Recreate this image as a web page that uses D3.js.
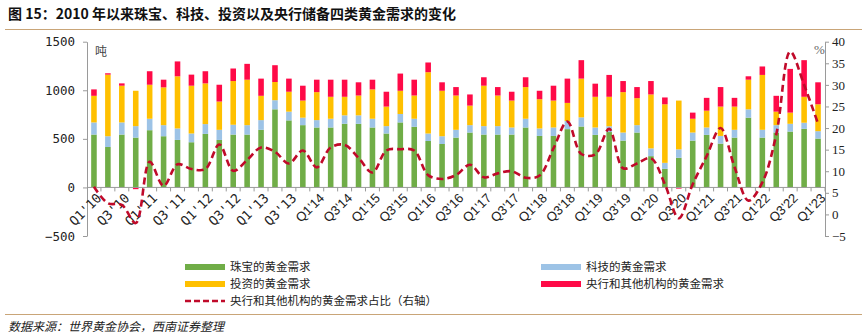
<!DOCTYPE html>
<html><head><meta charset="utf-8">
<script src="https://cdn.jsdelivr.net/npm/d3@7"></script>
<style>body{margin:0;background:#fff}svg{display:block}</style>
</head><body><svg id="c" width="867" height="335"></svg>
<script>
const quarters = ["Q1'10","Q2'10","Q3'10","Q4'10","Q1'11","Q2'11","Q3'11","Q4'11","Q1'12","Q2'12","Q3'12","Q4'12",
"Q1'13","Q2'13","Q3'13","Q4'13","Q1'14","Q2'14","Q3'14","Q4'14","Q1'15","Q2'15","Q3'15","Q4'15",
"Q1'16","Q2'16","Q3'16","Q4'16","Q1'17","Q2'17","Q3'17","Q4'17","Q1'18","Q2'18","Q3'18","Q4'18",
"Q1'19","Q2'19","Q3'19","Q4'19","Q1'20","Q2'20","Q3'20","Q4'20","Q1'21","Q2'21","Q3'21","Q4'21",
"Q1'22","Q2'22","Q3'22","Q4'22","Q1'23"];
const jewelry = [544,416,544,513,589,527,489,465,551,489,544,544,593,804,690,641,617,617,655,655,617,555,669,624,478,447,513,565,544,544,544,617,530,530,600,627,541,570,482,565,322,191,305,482,541,451,513,718,513,565,575,603,503];
const technology = [125,111,125,118,118,114,118,90,101,104,101,97,100,94,90,77,76,90,87,87,90,76,87,83,77,80,80,76,87,87,73,90,77,87,83,94,76,60,83,76,80,62,87,83,76,79,80,86,80,76,80,63,76];
const investment = [274,634,378,364,350,389,537,492,419,291,450,468,250,187,205,176,288,226,191,204,302,201,239,239,631,468,353,201,416,315,277,326,301,277,187,399,316,303,416,278,555,603,502,142,173,302,239,305,565,139,115,267,277];
const centralBanks = [66,14,24,-18,139,79,153,114,125,173,129,163,177,173,135,153,128,176,176,136,100,153,177,163,100,87,87,115,87,87,91,101,87,153,250,190,135,225,114,114,138,70,-12,63,132,201,90,35,87,163,450,377,226];
const cbShare = [6.4,2.6,2.2,-2.0,12.2,6.6,11.6,10.5,10.5,16.2,10.1,12.6,15.5,14.5,11.8,14.8,10.9,15.5,16.1,13.1,9.7,14.8,15.1,14.8,9.1,8.2,9.1,11.5,8.6,9.5,10.0,8.5,9.0,15.3,21.5,14.0,13.9,19.8,10.7,11.8,13.0,7.0,-0.9,7.0,13.5,20.0,11.0,3.2,7.4,18.5,37.7,30.0,21.0];
const leftTicks = [-500,0,500,1000,1500];
const rightTicks = [-5,0,5,10,15,20,25,30,35,40];
const seriesNames = ["珠宝的黄金需求","科技的黄金需求","投资的黄金需求","央行和其他机构的黄金需求"];
const lineName = "央行和其他机构的黄金需求占比（右轴）";
const title = "图 15：2010 年以来珠宝、科技、投资以及央行储备四类黄金需求的变化";
const source = "数据来源：世界黄金协会，西南证券整理";

const colors = {jewelry:"#70AD47", technology:"#9DC3E6", investment:"#FFC000", centralBanks:"#FF0A47"};
const lineColor = "#C00A2A";
const keys = ["jewelry","technology","investment","centralBanks"];

const svg = d3.select("#c");
const X0 = 87, X1 = 825, YT = 41.7, YB = 236;

const rows = quarters.map((q,i)=>({q, jewelry:jewelry[i], technology:technology[i], investment:investment[i], centralBanks:centralBanks[i]}));
const x = d3.scaleBand().domain(quarters).range([X0, X1]).paddingInner(0.6).paddingOuter(0.3);
const yL = d3.scaleLinear().domain([-500,1500]).range([YB, YT]);
const yR = d3.scaleLinear().domain([-5,40]).range([YB, YT]);

// title
svg.append("text").attr("x",8).attr("y",19).attr("font-family","'Noto Sans CJK SC'").attr("font-weight","bold")
  .attr("font-size",14).attr("fill","#111").text(title);
svg.append("line").attr("x1",5).attr("x2",862).attr("y1",29.5).attr("y2",29.5).attr("stroke","#C9A578").attr("stroke-width",1.2);

// bars
const stack = d3.stack().keys(keys).offset(d3.stackOffsetDiverging)(rows);
svg.append("g").selectAll("g").data(stack).join("g").attr("fill",d=>colors[d.key])
  .selectAll("rect").data(d=>d).join("rect")
  .attr("x",d=>x(d.data.q)).attr("width",x.bandwidth())
  .attr("y",d=>yL(Math.max(d[0],d[1]))).attr("height",d=>Math.abs(yL(d[0])-yL(d[1])));

// axes
const axisColor = "#9A9A9A";
const gL = svg.append("g").attr("transform",`translate(${X0},0)`).call(d3.axisLeft(yL).tickValues(leftTicks).tickFormat(d3.format("d")).tickSize(4).tickSizeOuter(0).tickPadding(8));
gL.select(".domain").attr("stroke",axisColor);
gL.selectAll(".tick line").attr("stroke",axisColor);
gL.selectAll("text").attr("font-family","'DejaVu Sans Mono'").attr("font-size",12.5).attr("fill","#222");

const gR = svg.append("g").attr("transform",`translate(${X1},0)`).call(d3.axisRight(yR).tickValues(rightTicks).tickSize(4).tickSizeOuter(0).tickPadding(3));
gR.select(".domain").attr("stroke",axisColor);
gR.selectAll(".tick line").attr("stroke",axisColor);
gR.selectAll("text").attr("font-family","'Liberation Serif'").attr("font-size",13).attr("fill","#222");

// x axis at zero
const y0 = yL(0);
const step = x.step();
svg.append("line").attr("x1",X0).attr("x2",X1).attr("y1",y0).attr("y2",y0).attr("stroke",axisColor);
svg.append("g").selectAll("line").data(quarters).join("line")
  .attr("x1",d=>x(d)+x.bandwidth()/2+step/2).attr("x2",d=>x(d)+x.bandwidth()/2+step/2)
  .attr("y1",y0).attr("y2",y0+4).attr("stroke",axisColor);

svg.append("g").selectAll("text").data(quarters.filter((d,i)=>i%2===0)).join("text")
  .attr("transform",d=>`translate(${x(d)+x.bandwidth()/2+2},${y0+5}) rotate(-45)`)
  .attr("text-anchor","end").attr("dy","0.7em")
  .attr("font-family",d=>quarters.indexOf(d)<=14?"'DejaVu Sans Mono'":"'Liberation Sans'")
  .attr("font-size",13).attr("fill","#222").text(d=>d);

// unit labels
svg.append("text").attr("x",95).attr("y",56).attr("font-family","'Noto Sans CJK SC'").attr("font-size",12).attr("fill","#444").text("吨");
svg.append("text").attr("x",814).attr("y",54).attr("font-family","'Liberation Serif'").attr("font-size",13).attr("fill","#666").text("%");

// line
const line = d3.line().x((d,i)=>x(quarters[i])+x.bandwidth()/2).y(d=>yR(d)).curve(d3.curveCatmullRom.alpha(0.5));
svg.append("path").datum(cbShare).attr("d",line).attr("fill","none").attr("stroke",lineColor)
  .attr("stroke-width",2.6).attr("stroke-dasharray","7,4");

// legend
const leg = svg.append("g").attr("font-family","'Noto Sans CJK SC'").attr("font-size",11.5).attr("fill","#222");
const legItems = [
  {k:"jewelry", x:185, y:267},{k:"technology", x:541, y:267},
  {k:"investment", x:185, y:284},{k:"centralBanks", x:541, y:284}];
legItems.forEach((it,i)=>{
  leg.append("rect").attr("x",it.x).attr("y",it.y-3).attr("width",40).attr("height",6).attr("fill",colors[it.k]);
  leg.append("text").attr("x",it.x+45).attr("y",it.y+4.2).text(seriesNames[keys.indexOf(it.k)]);
});
leg.append("line").attr("x1",185).attr("x2",225).attr("y1",301).attr("y2",301).attr("stroke",lineColor).attr("stroke-width",2.4).attr("stroke-dasharray","6,3");
leg.append("text").attr("x",230).attr("y",305.2).text(lineName);

// footer
svg.append("line").attr("x1",5).attr("x2",862).attr("y1",314.5).attr("y2",314.5).attr("stroke","#C9A578").attr("stroke-width",1.2);
svg.append("text").attr("x",8).attr("y",331).attr("font-family","'Noto Sans CJK SC'").attr("font-style","italic")
  .attr("font-size",12).attr("fill","#222").text(source);
</script></body></html>
